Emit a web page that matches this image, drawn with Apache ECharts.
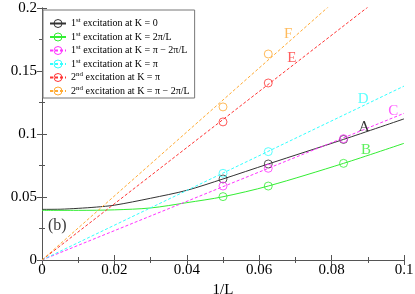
<!DOCTYPE html>
<html><head><meta charset="utf-8">
<script src="https://cdn.jsdelivr.net/npm/echarts@6/dist/echarts.min.js"></script>
<style>html,body{margin:0;padding:0;background:#fff}#c{width:415px;height:294px}</style>
</head><body><div id="c"></div>
<script>
// ---- data ----
const xTickLabels = ['0', '0.02', '0.04', '0.06', '0.08', '0.1'];
const yTickLabels = ['0', '0.05', '0.1', '0.15', '0.2'];

const seriesNames = [
  '1st excitation at K = 0',
  '1st excitation at K = 2π/L',
  '1st excitation at K = π − 2π/L',
  '1st excitation at K = π',
  '2nd excitation at K = π',
  '2nd excitation at K = π − 2π/L'
];
const seriesColors = ['#333333', '#33ee33', '#ff33ff', '#33ffff', '#ff3333', '#ffaa33'];
const dashed = [false, false, true, true, true, true];

// curves / fit lines  [1/L, gap]
const curveA = [[0,0.0402],[0.005,0.0403],[0.01,0.041],[0.015,0.042],[0.02,0.0435],[0.03,0.049],[0.04,0.0553],[0.05,0.0643],[0.0625,0.0762],[0.0833,0.0957],[0.1,0.112]];
const curveB = [[0,0.0394],[0.01,0.0394],[0.02,0.0398],[0.03,0.0413],[0.04,0.0455],[0.05,0.0502],[0.0625,0.0587],[0.0833,0.0767],[0.1,0.0926]];
const fitC = [[0,0],[0.1,0.1164]];
const fitD = [[0,0],[0.1,0.138]];
const fitE = [[0,0],[0.1,0.223]];
const fitF = [[0,0],[0.1,0.254]];
const curves = [curveA, curveB, fitC, fitD, fitE, fitF];

// measured points
const pointsA = [[0.05,0.0643],[0.0625,0.0762],[0.0833,0.0957]];
const pointsB = [[0.05,0.0503],[0.0625,0.0587],[0.0833,0.0767]];
const pointsC = [[0.05,0.0587],[0.0625,0.0728],[0.0833,0.0963]];
const pointsD = [[0.05,0.0688],[0.0625,0.086]];
const pointsE = [[0.05,0.1096],[0.0625,0.1405]];
const pointsF = [[0.05,0.1215],[0.0625,0.1635]];
const points = [pointsA, pointsB, pointsC, pointsD, pointsE, pointsF];

// letter labels
const letterNames = ['A', 'B', 'C', 'D', 'E', 'F'];
const letterPos = [[0.089,0.1056],[0.0895,0.087],[0.097,0.118],[0.0887,0.128],[0.069,0.160],[0.068,0.179]];
const panelLabel = '(b)';
const panelPos = [0.0042, 0.027];

// ---- chart ----
const serif = "'Liberation Serif', 'Times New Roman', serif";
const frame = '#555';
const chart = echarts.init(document.getElementById('c'), null, {renderer: 'canvas'});

const series = [];
seriesNames.forEach((name, i) => {
  const col = seriesColors[i];
  series.push({
    type: 'line', name: name, data: curves[i], smooth: i < 2 ? 0.3 : false,
    symbol: 'circle', symbolSize: 7, showSymbol: false, clip: true, silent: true,
    itemStyle: {color: 'rgba(255,255,255,0)', borderColor: col, borderWidth: 1},
    lineStyle: {color: col, width: 1, type: dashed[i] ? [3, 2] : 'solid'},
    z: 2
  });
  series.push({
    type: 'scatter', name: name, data: points[i], symbol: 'circle', symbolSize: 8, silent: true,
    itemStyle: {color: 'rgba(255,255,255,0)', borderColor: col, borderWidth: 1},
    z: 3
  });
});
series.push({
  type: 'scatter', name: 'letters', silent: true, symbolSize: 1,
  data: letterNames.map((t, i) => ({value: letterPos[i], label: {formatter: t, color: seriesColors[i] === '#333333' ? '#000' : seriesColors[i]}})),
  itemStyle: {color: 'rgba(0,0,0,0)'},
  label: {show: true, position: 'inside', fontFamily: serif, fontSize: 15},
  z: 4
});
series.push({
  type: 'scatter', name: 'panel', silent: true, symbolSize: 1,
  data: [{value: panelPos, label: {formatter: panelLabel}}],
  itemStyle: {color: 'rgba(0,0,0,0)'},
  label: {show: true, position: 'inside', fontFamily: serif, fontSize: 16, color: '#000'},
  z: 4
});

function legendFmt(name) {
  const m = name.match(/^(\d)(st|nd)(.*)$/);
  return '{n|' + m[1] + '}{s|' + m[2] + '}{t|' + m[3] + '}';
}

const axisCommon = {
  axisLine: {show: true, lineStyle: {color: frame, width: 1}},
  axisTick: {show: true, inside: true, length: 5, lineStyle: {color: frame}},
  minorTick: {show: true, splitNumber: 2, length: 3, lineStyle: {color: frame}},
  splitLine: {show: false}
};

chart.setOption({
  animation: false,
  backgroundColor: '#fff',
  textStyle: {fontFamily: serif},
  grid: {left: 42, right: 11, top: 8, bottom: 34, containLabel: false, outerBoundsMode: 'none'},
  legend: {
    data: seriesNames, orient: 'vertical', left: 43, top: 10,
    selectedMode: false, backgroundColor: '#fff',
    borderColor: '#777', borderWidth: 1, borderRadius: 0,
    padding: [7, 5, 2, 6], itemGap: 2, itemWidth: 16, itemHeight: 10,
    itemStyle: {borderWidth: 1},
    formatter: legendFmt,
    textStyle: {
      fontFamily: serif, fontSize: 10, color: '#000',
      rich: {
        n: {fontFamily: serif, fontSize: 10, lineHeight: 13, color: '#000'},
        s: {fontFamily: serif, fontSize: 7, lineHeight: 13, verticalAlign: 'top', color: '#000'},
        t: {fontFamily: serif, fontSize: 10, lineHeight: 13, color: '#000'}
      }
    }
  },
  xAxis: [
    Object.assign({
      type: 'value', min: 0, max: 0.1, interval: 0.02, position: 'bottom',
      name: '1/L', nameLocation: 'middle', nameGap: 18,
      nameTextStyle: {fontFamily: serif, fontSize: 15, color: '#000'},
      axisLabel: {show: true, margin: 3, fontFamily: serif, fontSize: 15, color: '#000',
        hideOverlap: false, formatter: (v, i) => xTickLabels[i]}
    }, axisCommon),
    Object.assign({
      type: 'value', min: 0, max: 0.1, interval: 0.02, position: 'top',
      axisLabel: {show: false}
    }, axisCommon)
  ],
  yAxis: [
    Object.assign({
      type: 'value', min: 0, max: 0.2, interval: 0.05, position: 'left',
      name: 'gap', nameLocation: 'middle', nameGap: 26, nameRotate: 90,
      nameTextStyle: {fontFamily: serif, fontSize: 15, color: '#000'},
      axisLabel: {show: true, margin: 5, fontFamily: serif, fontSize: 15, color: '#000',
        hideOverlap: false, formatter: (v, i) => yTickLabels[i]}
    }, axisCommon),
    Object.assign({
      type: 'value', min: 0, max: 0.2, interval: 0.05, position: 'right',
      axisLabel: {show: false}
    }, axisCommon)
  ],
  series: series
});
</script></body></html>
